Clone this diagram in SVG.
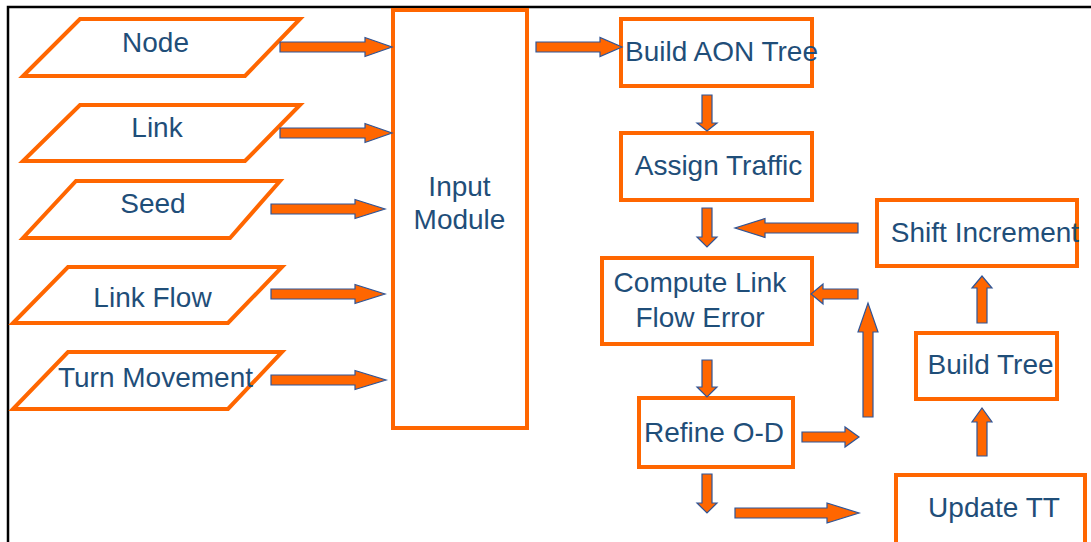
<svg xmlns="http://www.w3.org/2000/svg" width="1091" height="542" viewBox="0 0 1091 542">
  <style>
    .box { fill: #FFFFFF; stroke: #FF6600; stroke-width: 4; }
    .lbl { font-family: "Liberation Sans", Arial, sans-serif; font-size: 28px; fill: #1F4E79; text-anchor: middle; }
    .arw { fill: #FF6600; stroke: #2F5597; stroke-width: 1.2; stroke-linejoin: miter; }
  </style>
  <rect x="0" y="0" width="1091" height="542" fill="#FFFFFF"/>
  <!-- outer frame, running past the right and bottom edges -->
  <rect x="8" y="7" width="1100" height="560" fill="none" stroke="#000000" stroke-width="2.5"/>

  <!-- input data sets -->
  <g id="node-node">
    <polygon class="box" points="80,19 300,19 245,76 23,76"/>
    <text class="lbl" x="155.5" y="52">Node</text>
  </g>
  <g id="node-link">
    <polygon class="box" points="80,105 300,105 245,161 23,161"/>
    <text class="lbl" x="157" y="137">Link</text>
  </g>
  <g id="node-seed">
    <polygon class="box" points="76,181 280,181 230,238 23,238"/>
    <text class="lbl" x="153" y="213">Seed</text>
  </g>
  <g id="node-linkflow">
    <polygon class="box" points="68,267 282,267 228,323 13,323"/>
    <text class="lbl" x="152.5" y="307">Link Flow</text>
  </g>
  <g id="node-turn">
    <polygon class="box" points="68,352 282,352 228,409 13,409"/>
    <text class="lbl" x="155.5" y="387">Turn Movement</text>
  </g>

  <!-- processing steps -->
  <g id="node-input">
    <rect class="box" x="393" y="10" width="134" height="418"/>
    <text class="lbl" x="459.5" y="196">Input</text>
    <text class="lbl" x="459.5" y="229">Module</text>
  </g>
  <g id="node-aon">
    <rect class="box" x="621" y="19" width="191" height="67"/>
    <text class="lbl" x="721.5" y="61">Build AON Tree</text>
  </g>
  <g id="node-assign">
    <rect class="box" x="621" y="133" width="191" height="67"/>
    <text class="lbl" x="718.5" y="175">Assign Traffic</text>
  </g>
  <g id="node-compute">
    <rect class="box" x="602" y="258" width="210" height="86"/>
    <text class="lbl" x="700" y="292">Compute Link</text>
    <text class="lbl" x="700" y="327">Flow Error</text>
  </g>
  <g id="node-refine">
    <rect class="box" x="639" y="398" width="154" height="69"/>
    <text class="lbl" x="714" y="442">Refine O-D</text>
  </g>
  <g id="node-shift">
    <rect class="box" x="877" y="200" width="200" height="66"/>
    <text class="lbl" x="985" y="242">Shift Increment</text>
  </g>
  <g id="node-buildtree">
    <rect class="box" x="916" y="333" width="141" height="66"/>
    <text class="lbl" x="990.5" y="374">Build Tree</text>
  </g>
  <g id="node-update">
    <rect class="box" x="896" y="475" width="189" height="80"/>
    <text class="lbl" x="994" y="517">Update TT</text>
  </g>

  <!-- block arrows -->
  <g id="connectors">
    <!-- inputs into the module -->
    <polygon class="arw" points="280,42 365,42 365,37.5 392,47 365,56.5 365,52 280,52"/>
    <polygon class="arw" points="280,128 365,128 365,123.5 392,133 365,142.5 365,138 280,138"/>
    <polygon class="arw" points="271,204 355,204 355,199.5 385,209 355,218.5 355,214 271,214"/>
    <polygon class="arw" points="271,289 355,289 355,284.5 385,294 355,303.5 355,299 271,299"/>
    <polygon class="arw" points="271,375 355,375 355,370.5 386,380 355,389.5 355,385 271,385"/>
    <!-- module to AON tree -->
    <polygon class="arw" points="536,42 600,42 600,37.5 622,47 600,56.5 600,52 536,52"/>
    <!-- main column, downward -->
    <polygon class="arw" points="702,95 712,95 712,123 717,123 707,131 697,123 702,123"/>
    <polygon class="arw" points="702,208 712,208 712,237 717,237 707,247 697,237 702,237"/>
    <polygon class="arw" points="702,360 712,360 712,387 717,387 707,397 697,387 702,387"/>
    <polygon class="arw" points="702,474 712,474 712,503 717,503 707,513 697,503 702,503"/>
    <!-- rightward from Refine O-D -->
    <polygon class="arw" points="802,432 845,432 845,427 859,437 845,447 845,442 802,442"/>
    <polygon class="arw" points="735,508 827,508 827,503 859,513 827,523 827,518 735,518"/>
    <!-- leftward feedback -->
    <polygon class="arw" points="858,223 765,223 765,218.5 735,228 765,237.5 765,233 858,233"/>
    <polygon class="arw" points="858,289 823,289 823,284 811,294 823,304 823,299 858,299"/>
    <!-- upward -->
    <polygon class="arw" points="863,417 863,332 858,332 868,303 878,332 873,332 873,417"/>
    <polygon class="arw" points="977,323 977,288 972,288 982,276 992,288 987,288 987,323"/>
    <polygon class="arw" points="977,456 977,422 972,422 982,408 992,422 987,422 987,456"/>
  </g>
</svg>
